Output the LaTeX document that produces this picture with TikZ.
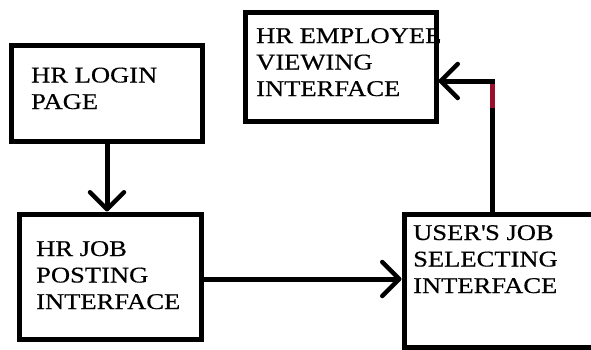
\documentclass[tikz,border=0pt]{standalone}
\usepackage{fontspec}
\setmainfont[FakeStretch=1.18,FakeBold=0.4]{Liberation Serif}
\usetikzlibrary{arrows.meta}
\definecolor{darkred}{HTML}{9B0F2A}
\begin{document}
\begin{tikzpicture}[x=1pt,y=-1pt,
  box/.style={draw=black,line width=5pt,rectangle,inner sep=0pt},
  lbl/.style={anchor=base west,align=left,inner sep=0pt,font=\fontsize{22.5pt}{26.5pt}\selectfont},
  conn/.style={draw=black,line width=5pt,-{Straight Barb[length=17pt,width=34pt,line width=4.5pt,round]}}]
\useasboundingbox (0,0) rectangle (591,349);
\fill[white] (0,0) rectangle (591,349);
% boxes
\node[box,minimum width=191pt,minimum height=96pt] (login) at (106.5,93) {};
\node[box,minimum width=191pt,minimum height=109pt] (emp) at (340.5,66.5) {};
\node[box,minimum width=182pt,minimum height=125pt] (post) at (110,276.5) {};
\node[box,minimum width=200pt,minimum height=133pt] (user) at (504,280.5) {};
% labels (anchor = baseline of last line)
\node[lbl] (loginT) at (31,109) {HR LOGIN\\PAGE};
\node[lbl] (empT) at (256,96) {HR EMPLOYEE\\VIEWING\\INTERFACE};
\node[lbl] (postT) at (36,309) {HR JOB\\POSTING\\INTERFACE};
\node[lbl] (userT) at (413,293) {USER\textquotesingle S JOB\\SELECTING\\INTERFACE};
% connectors
\coordinate (loginB) at (107,0);
\draw[conn] (loginB |- login.south) -- (loginB |- post.north);
\coordinate (postR) at (0,279);
\draw[conn] (postR -| post.east) -- (postR -| user.west);
\coordinate (bend) at (492,81);
\coordinate (redend) at (492,108);
\draw[conn] (bend |- user.north) -- (bend) -- (bend -| emp.east);
\draw[draw=darkred,line width=5pt] ([yshift=-2.5pt]bend) -- (redend);
\end{tikzpicture}
\end{document}
